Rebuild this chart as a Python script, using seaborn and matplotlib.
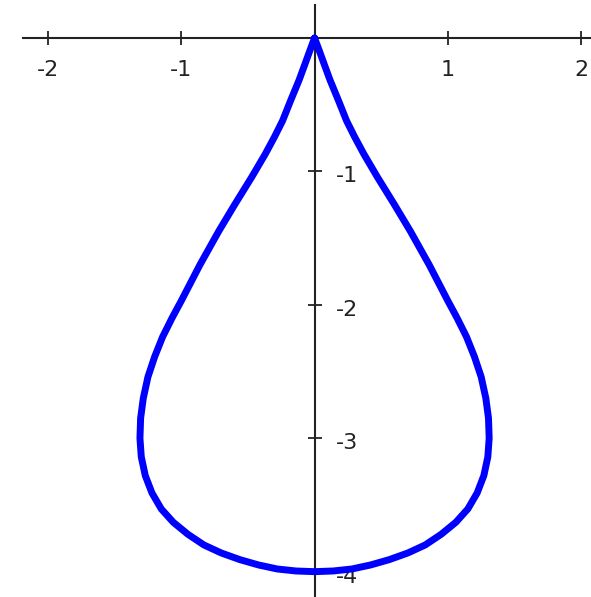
import matplotlib
matplotlib.use("Agg")
import matplotlib.pyplot as plt
import matplotlib.transforms as mtransforms
import seaborn as sns
import pandas as pd

# points: right half from the tip down to the bottom,
# then the left half from the bottom back up to the tip
right_x = [0.0, 0.03, 0.07, 0.116, 0.18, 0.24, 0.30, 0.37, 0.47, 0.60, 0.72, 0.86, 1.0,
           1.07, 1.14, 1.20, 1.25, 1.285, 1.305, 1.31, 1.30, 1.27, 1.22, 1.15, 1.06, 0.95,
           0.83, 0.70, 0.56, 0.42, 0.28, 0.14, 0.0]
right_y = [0.0, -0.08, -0.19, -0.315, -0.47, -0.62, -0.74, -0.87, -1.04, -1.25, -1.45,
           -1.70, -1.97, -2.10, -2.24, -2.39, -2.54, -2.70, -2.85, -3.0, -3.14, -3.28,
           -3.41, -3.53, -3.63, -3.72, -3.80, -3.86, -3.91, -3.95, -3.98, -3.995, -4.0]
left_x = [-0.14, -0.28, -0.42, -0.56, -0.70, -0.83, -0.95, -1.06, -1.15, -1.22, -1.27,
          -1.30, -1.31, -1.305, -1.285, -1.25, -1.20, -1.14, -1.07, -1.0, -0.86, -0.72,
          -0.60, -0.47, -0.37, -0.30, -0.24, -0.18, -0.116, -0.07, -0.03, 0.0]
left_y = [-3.995, -3.98, -3.95, -3.91, -3.86, -3.80, -3.72, -3.63, -3.53, -3.41, -3.28,
          -3.14, -3.0, -2.85, -2.70, -2.54, -2.39, -2.24, -2.10, -1.97, -1.70, -1.45,
          -1.25, -1.04, -0.87, -0.74, -0.62, -0.47, -0.315, -0.19, -0.08, 0.0]

x_ticks = [-2, -1, 1, 2]
y_ticks = [-1, -2, -3, -4]

sns.set_theme(style="white")
plt.rcParams["font.family"] = ["DejaVu Sans"]
plt.rcParams["axes.unicode_minus"] = False

df = pd.DataFrame({"x": right_x + left_x, "y": right_y + left_y})

fig = plt.figure(figsize=(5.91, 5.97), dpi=100)
ax = fig.add_axes([0, 0, 1, 1])

sns.lineplot(data=df, x="x", y="y", sort=False, estimator=None, color="#0000ff",
             linewidth=5.0, ax=ax, zorder=5, solid_joinstyle="round",
             solid_capstyle="round")

ax.set_xlim(-2.36, 2.074)
ax.set_ylim(-4.19, 0.285)
ax.set_xlabel("")
ax.set_ylabel("")

# axes through the origin
ax.spines["top"].set_visible(False)
ax.spines["left"].set_visible(False)
ax.spines["bottom"].set_position(("data", 0))
ax.spines["right"].set_position(("data", 0))
ax.spines["bottom"].set_bounds(-2.19, 2.074)
ax.spines["right"].set_bounds(-4.19, 0.25)
for s in ("bottom", "right"):
    ax.spines[s].set_color("#222222")
    ax.spines[s].set_linewidth(1.5)

ax.xaxis.set_ticks_position("bottom")
ax.yaxis.set_ticks_position("right")
ax.set_xticks(x_ticks)
ax.set_xticklabels([str(v) for v in x_ticks])
ax.set_yticks(y_ticks)
ax.set_yticklabels([str(v) for v in y_ticks])
ax.tick_params(axis="both", direction="inout", length=10, width=1.3,
               color="#222222", labelsize=16, labelcolor="#222222")
ax.tick_params(axis="x", pad=11)
ax.tick_params(axis="y", pad=10)

# y labels sit a few pixels below their ticks in the original
shift = mtransforms.ScaledTranslation(0, -3 / 100, fig.dpi_scale_trans)
for tick in ax.yaxis.get_major_ticks():
    tick.label2.set_transform(tick.label2.get_transform() + shift)
ax.grid(False)

fig.savefig("out.png", dpi=100)
